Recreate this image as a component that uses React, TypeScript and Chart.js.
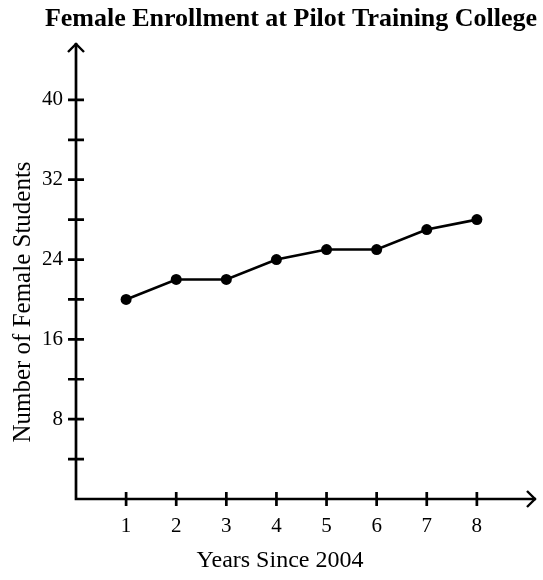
import React, { useEffect, useRef } from "react";
import { Chart, registerables } from "chart.js";

Chart.register(...registerables);

const years = [1, 2, 3, 4, 5, 6, 7, 8];
const students = [20, 22, 22, 24, 25, 25, 27, 28];
const xTicks = [1, 2, 3, 4, 5, 6, 7, 8];
const yTicks = [4, 8, 12, 16, 20, 24, 28, 32, 36, 40];
const yLabelled = [8, 16, 24, 32, 40];

const chartTitle = "Female Enrollment at Pilot Training College";
const xTitle = "Years Since 2004";
const yTitle = "Number of Female Students";

const SERIF = "'Liberation Serif', 'Times New Roman', serif";

const axesPlugin = {
  id: "mathAxes",
  afterDraw(chart: any) {
    const { ctx, chartArea, scales } = chart;
    const xs = scales.x;
    const ys = scales.y;
    const x0 = xs.getPixelForValue(0);
    const y0 = ys.getPixelForValue(0);
    const xEnd = chartArea.right;
    const yEnd = chartArea.top;
    ctx.save();
    ctx.strokeStyle = "#000";
    ctx.lineWidth = 2.7;
    ctx.lineCap = "butt";
    // axes
    ctx.beginPath();
    ctx.moveTo(x0, y0);
    ctx.lineTo(x0, yEnd);
    ctx.moveTo(x0 - 1.35, y0);
    ctx.lineTo(xEnd, y0);
    ctx.stroke();
    // arrows
    ctx.lineWidth = 2.4;
    ctx.beginPath();
    ctx.moveTo(x0 - 8, yEnd + 9);
    ctx.lineTo(x0, yEnd + 1);
    ctx.lineTo(x0 + 8, yEnd + 9);
    ctx.moveTo(xEnd - 9, y0 - 8);
    ctx.lineTo(xEnd - 1, y0);
    ctx.lineTo(xEnd - 9, y0 + 8);
    ctx.stroke();
    // tick marks
    ctx.lineWidth = 2.7;
    ctx.beginPath();
    yTicks.forEach((v) => {
      const py = ys.getPixelForValue(v);
      ctx.moveTo(x0 - 8, py);
      ctx.lineTo(x0 + 8, py);
    });
    xTicks.forEach((v) => {
      const px = xs.getPixelForValue(v);
      ctx.moveTo(px, y0 - 7);
      ctx.lineTo(px, y0 + 7);
    });
    ctx.stroke();
    // titles
    ctx.fillStyle = "#000";
    ctx.textAlign = "center";
    ctx.textBaseline = "alphabetic";
    ctx.font = `bold 26px ${SERIF}`;
    ctx.fillText(chartTitle, 291, 26);
    ctx.font = `24px ${SERIF}`;
    ctx.fillText(xTitle, 280, 567);
    ctx.save();
    ctx.translate(30, 302);
    ctx.rotate(-Math.PI / 2);
    ctx.font = `25px ${SERIF}`;
    ctx.fillText(yTitle, 0, 0);
    ctx.restore();
    ctx.restore();
  },
};

export default function App() {
  const ref = useRef<HTMLCanvasElement>(null);
  useEffect(() => {
    document.body.style.margin = "0";
    if (!ref.current) return;
    const chart = new Chart(ref.current, {
      type: "line",
      data: {
        datasets: [
          {
            data: years.map((x, i) => ({ x, y: students[i] })),
            borderColor: "#000",
            backgroundColor: "#000",
            borderWidth: 2.6,
            pointRadius: 5.5,
            pointBackgroundColor: "#000",
            pointBorderWidth: 0,
            tension: 0,
            clip: false,
          },
        ],
      },
      options: {
        responsive: false,
        animation: false,
        devicePixelRatio: 1,
        layout: { padding: { top: 43, right: 7, left: 0, bottom: 0 } },
        plugins: {
          legend: { display: false },
          title: { display: false },
          tooltip: { enabled: false },
        },
        scales: {
          x: {
            type: "linear",
            min: 0,
            max: 9.18,
            afterFit(scale: any) {
              scale.height = 81;
            },
            afterBuildTicks(scale: any) {
              scale.ticks = xTicks.map((v) => ({ value: v }));
            },
            grid: { display: false, drawTicks: false },
            border: { display: false },
            ticks: {
              color: "#000",
              padding: 15,
              maxRotation: 0,
              autoSkip: false,
              font: { family: SERIF, size: 21 },
              callback: (v: any) => String(v),
            },
          },
          y: {
            type: "linear",
            min: 0,
            max: 45.7,
            afterFit(scale: any) {
              scale.width = 76;
            },
            afterBuildTicks(scale: any) {
              scale.ticks = yTicks.map((v) => ({ value: v }));
            },
            grid: { display: false, drawTicks: false },
            border: { display: false },
            ticks: {
              color: "#000",
              padding: 13,
              autoSkip: false,
              font: { family: SERIF, size: 21 },
              callback: (v: any) => (yLabelled.includes(Number(v)) ? String(v) : ""),
            },
          },
        },
      },
      plugins: [axesPlugin],
    });
    return () => chart.destroy();
  }, []);
  return (
    <div style={{ width: 543, height: 580 }}>
      <canvas ref={ref} width={543} height={580} style={{ display: "block" }} />
    </div>
  );
}
